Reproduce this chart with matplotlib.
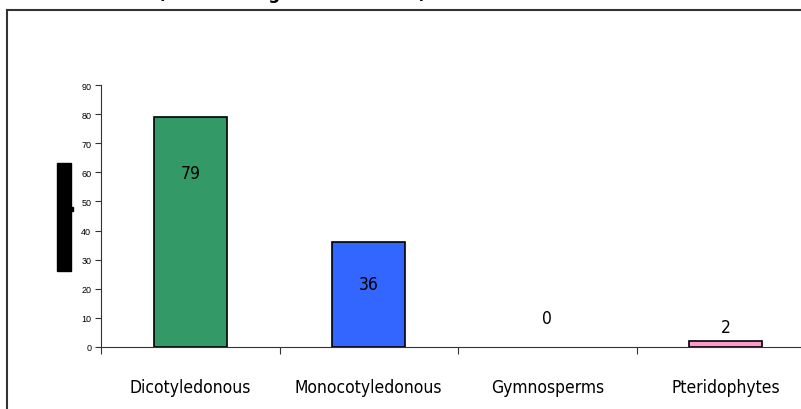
import matplotlib.pyplot as plt
from matplotlib.lines import Line2D
from matplotlib.patches import Rectangle

groups = ['Dicotyledonous', 'Monocotyledonous', 'Gymnosperms', 'Pteridophytes']
counts = [79, 36, 0, 2]
colors = ['#339966', '#3366FF', '#FFFFFF', '#FF99CC']
yticks = [0, 10, 20, 30, 40, 50, 60, 70, 80, 90]

plt.rcParams['font.family'] = ['DejaVu Sans']

W, H = 801, 410
fig = plt.figure(figsize=(W / 100, H / 100), dpi=100)

# outer chart frame: only top and left edges are inside the picture
fig.add_artist(Line2D([7 / W, 1.0], [1 - 11 / H, 1 - 11 / H],
                      transform=fig.transFigure, color='#333333', lw=1.5))
fig.add_artist(Line2D([7 / W, 7 / W], [0, 1 - 11 / H],
                      transform=fig.transFigure, color='#333333', lw=1.5))

# title mostly cut off at the top
fig.text(292 / W, 1 + 1.0 / H, '(Total among all the classes)', ha='center',
         va='baseline', fontsize=12, fontweight='bold')

ax = fig.add_axes([101 / W, 62 / H, 714 / W, 262 / H])
x = range(len(groups))
bars = ax.bar(x, counts, width=0.41, color=colors, edgecolor='black', lw=1.2)
for b, c in zip(bars, counts):
    if c == 0:
        b.set_visible(False)
ax.set_xlim(-0.5, 3.5)
ax.set_ylim(0, 90)
ax.set_yticks(yticks)
ax.set_yticklabels([str(v) for v in yticks], fontsize=6.5, family='Liberation Sans')
ax.tick_params(axis='y', length=4, width=0.8, pad=3, color='#333333')

ax.set_xticks([i - 0.5 for i in range(len(groups) + 1)])
ax.set_xticklabels([])
ax.set_xticks(list(x), minor=True)
ax.set_xticklabels(groups, minor=True, fontsize=12.5, fontstretch='condensed')
ax.tick_params(axis='x', which='major', length=5, width=0.8, color='#333333')
ax.tick_params(axis='x', which='minor', length=0, pad=22)

for s in ['top', 'right']:
    ax.spines[s].set_visible(False)
for s in ['left', 'bottom']:
    ax.spines[s].set_color('#333333')
    ax.spines[s].set_linewidth(0.8)

# value labels
label_y = [59.8, 21.6, 10.0, 6.9]
for i, (c, ly) in enumerate(zip(counts, label_y)):
    ax.text(i, ly, str(c), ha='center', va='center', fontsize=12.5,
            fontstretch='condensed')

# redacted y-axis title
fig.patches.append(Rectangle((57 / W, 1 - 272 / H), 14 / W, 108 / H,
                             transform=fig.transFigure, color='black'))
fig.patches.append(Rectangle((71 / W, 1 - 212 / H), 2 / W, 4 / H,
                             transform=fig.transFigure, color='black'))

plt.savefig('out.png', dpi=100)
